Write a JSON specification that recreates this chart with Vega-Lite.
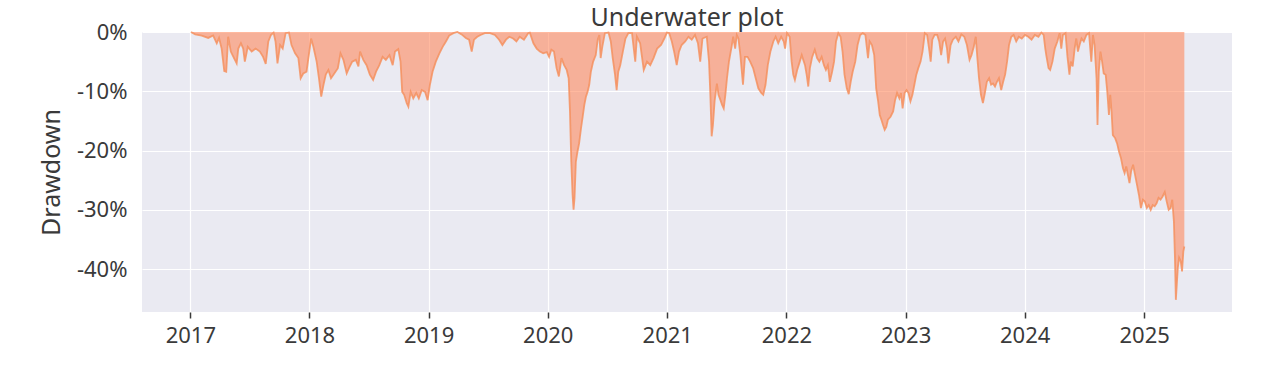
{
  "$schema": "https://vega.github.io/schema/vega-lite/v6.json",
  "width": 1090,
  "height": 280,
  "autosize": {"type": "none"},
  "padding": {"left": 142, "top": 32, "right": 42, "bottom": 60},
  "background": "white",
  "title": {"text": "Underwater plot", "fontSize": 25, "fontWeight": "normal", "font": "Noto Sans", "color": "#3a3a3a", "anchor": "middle", "offset": 5, "dy": 15},
  "data": {"values": [
    {"date": "2017-01-03", "drawdown": 0},
    {"date": "2017-01-16", "drawdown": -0.004},
    {"date": "2017-02-05", "drawdown": -0.006},
    {"date": "2017-02-25", "drawdown": -0.010},
    {"date": "2017-03-12", "drawdown": -0.006},
    {"date": "2017-03-23", "drawdown": -0.019},
    {"date": "2017-03-30", "drawdown": -0.010},
    {"date": "2017-04-07", "drawdown": -0.028},
    {"date": "2017-04-15", "drawdown": -0.066},
    {"date": "2017-04-21", "drawdown": -0.067},
    {"date": "2017-04-27", "drawdown": -0.008},
    {"date": "2017-05-05", "drawdown": -0.033},
    {"date": "2017-05-13", "drawdown": -0.042},
    {"date": "2017-05-23", "drawdown": -0.053},
    {"date": "2017-05-28", "drawdown": -0.028},
    {"date": "2017-06-05", "drawdown": -0.019},
    {"date": "2017-06-12", "drawdown": -0.028},
    {"date": "2017-06-17", "drawdown": -0.050},
    {"date": "2017-06-26", "drawdown": -0.025},
    {"date": "2017-07-08", "drawdown": -0.033},
    {"date": "2017-07-20", "drawdown": -0.028},
    {"date": "2017-08-02", "drawdown": -0.033},
    {"date": "2017-08-12", "drawdown": -0.042},
    {"date": "2017-08-20", "drawdown": -0.054},
    {"date": "2017-08-28", "drawdown": -0.016},
    {"date": "2017-09-05", "drawdown": -0.005},
    {"date": "2017-09-13", "drawdown": -0.001},
    {"date": "2017-09-19", "drawdown": -0.016},
    {"date": "2017-09-25", "drawdown": -0.053},
    {"date": "2017-10-03", "drawdown": -0.022},
    {"date": "2017-10-11", "drawdown": -0.028},
    {"date": "2017-10-20", "drawdown": -0.002},
    {"date": "2017-10-30", "drawdown": -0.001},
    {"date": "2017-11-07", "drawdown": -0.022},
    {"date": "2017-11-18", "drawdown": -0.036},
    {"date": "2017-11-28", "drawdown": -0.044},
    {"date": "2017-12-05", "drawdown": -0.078},
    {"date": "2017-12-13", "drawdown": -0.070},
    {"date": "2017-12-23", "drawdown": -0.067},
    {"date": "2018-01-06", "drawdown": -0.011},
    {"date": "2018-01-13", "drawdown": -0.025},
    {"date": "2018-01-23", "drawdown": -0.050},
    {"date": "2018-01-30", "drawdown": -0.078},
    {"date": "2018-02-06", "drawdown": -0.109},
    {"date": "2018-02-13", "drawdown": -0.089},
    {"date": "2018-02-20", "drawdown": -0.072},
    {"date": "2018-02-28", "drawdown": -0.064},
    {"date": "2018-03-08", "drawdown": -0.078},
    {"date": "2018-03-18", "drawdown": -0.070},
    {"date": "2018-03-29", "drawdown": -0.061},
    {"date": "2018-04-06", "drawdown": -0.036},
    {"date": "2018-04-15", "drawdown": -0.047},
    {"date": "2018-04-25", "drawdown": -0.070},
    {"date": "2018-05-02", "drawdown": -0.061},
    {"date": "2018-05-12", "drawdown": -0.050},
    {"date": "2018-05-23", "drawdown": -0.047},
    {"date": "2018-05-31", "drawdown": -0.058},
    {"date": "2018-06-05", "drawdown": -0.033},
    {"date": "2018-06-15", "drawdown": -0.047},
    {"date": "2018-06-25", "drawdown": -0.056},
    {"date": "2018-07-05", "drawdown": -0.072},
    {"date": "2018-07-15", "drawdown": -0.081},
    {"date": "2018-07-24", "drawdown": -0.067},
    {"date": "2018-08-03", "drawdown": -0.056},
    {"date": "2018-08-13", "drawdown": -0.042},
    {"date": "2018-08-23", "drawdown": -0.047},
    {"date": "2018-09-03", "drawdown": -0.039},
    {"date": "2018-09-13", "drawdown": -0.056},
    {"date": "2018-09-20", "drawdown": -0.033},
    {"date": "2018-09-30", "drawdown": -0.029},
    {"date": "2018-10-07", "drawdown": -0.050},
    {"date": "2018-10-12", "drawdown": -0.101},
    {"date": "2018-10-18", "drawdown": -0.106},
    {"date": "2018-10-26", "drawdown": -0.120},
    {"date": "2018-10-31", "drawdown": -0.126},
    {"date": "2018-11-07", "drawdown": -0.101},
    {"date": "2018-11-15", "drawdown": -0.112},
    {"date": "2018-11-24", "drawdown": -0.103},
    {"date": "2018-12-02", "drawdown": -0.112},
    {"date": "2018-12-11", "drawdown": -0.098},
    {"date": "2018-12-21", "drawdown": -0.101},
    {"date": "2018-12-29", "drawdown": -0.115},
    {"date": "2019-01-05", "drawdown": -0.089},
    {"date": "2019-01-13", "drawdown": -0.067},
    {"date": "2019-01-23", "drawdown": -0.050},
    {"date": "2019-02-03", "drawdown": -0.036},
    {"date": "2019-02-13", "drawdown": -0.025},
    {"date": "2019-02-23", "drawdown": -0.016},
    {"date": "2019-03-05", "drawdown": -0.006},
    {"date": "2019-03-18", "drawdown": -0.002},
    {"date": "2019-03-30", "drawdown": 0},
    {"date": "2019-04-12", "drawdown": -0.004},
    {"date": "2019-04-25", "drawdown": -0.010},
    {"date": "2019-05-05", "drawdown": -0.013},
    {"date": "2019-05-13", "drawdown": -0.033},
    {"date": "2019-05-20", "drawdown": -0.013},
    {"date": "2019-05-30", "drawdown": -0.008},
    {"date": "2019-06-09", "drawdown": -0.005},
    {"date": "2019-06-22", "drawdown": -0.002},
    {"date": "2019-07-08", "drawdown": -0.002},
    {"date": "2019-07-23", "drawdown": -0.005},
    {"date": "2019-08-05", "drawdown": -0.013},
    {"date": "2019-08-15", "drawdown": -0.022},
    {"date": "2019-08-26", "drawdown": -0.013},
    {"date": "2019-09-05", "drawdown": -0.008},
    {"date": "2019-09-17", "drawdown": -0.011},
    {"date": "2019-09-27", "drawdown": -0.016},
    {"date": "2019-10-07", "drawdown": -0.008},
    {"date": "2019-10-20", "drawdown": -0.013},
    {"date": "2019-11-02", "drawdown": -0.002},
    {"date": "2019-11-07", "drawdown": -0.001},
    {"date": "2019-11-18", "drawdown": -0.019},
    {"date": "2019-11-28", "drawdown": -0.028},
    {"date": "2019-12-08", "drawdown": -0.033},
    {"date": "2019-12-18", "drawdown": -0.036},
    {"date": "2019-12-29", "drawdown": -0.034},
    {"date": "2020-01-05", "drawdown": -0.042},
    {"date": "2020-01-12", "drawdown": -0.030},
    {"date": "2020-01-20", "drawdown": -0.033},
    {"date": "2020-01-28", "drawdown": -0.061},
    {"date": "2020-02-04", "drawdown": -0.075},
    {"date": "2020-02-12", "drawdown": -0.044},
    {"date": "2020-02-20", "drawdown": -0.056},
    {"date": "2020-02-28", "drawdown": -0.064},
    {"date": "2020-03-05", "drawdown": -0.078},
    {"date": "2020-03-09", "drawdown": -0.134},
    {"date": "2020-03-13", "drawdown": -0.219},
    {"date": "2020-03-17", "drawdown": -0.275},
    {"date": "2020-03-20", "drawdown": -0.300},
    {"date": "2020-03-23", "drawdown": -0.280},
    {"date": "2020-03-27", "drawdown": -0.219},
    {"date": "2020-04-01", "drawdown": -0.202},
    {"date": "2020-04-06", "drawdown": -0.188},
    {"date": "2020-04-12", "drawdown": -0.162},
    {"date": "2020-04-17", "drawdown": -0.143},
    {"date": "2020-04-22", "drawdown": -0.123},
    {"date": "2020-04-27", "drawdown": -0.109},
    {"date": "2020-05-02", "drawdown": -0.101},
    {"date": "2020-05-07", "drawdown": -0.089},
    {"date": "2020-05-12", "drawdown": -0.067},
    {"date": "2020-05-19", "drawdown": -0.050},
    {"date": "2020-05-27", "drawdown": -0.039},
    {"date": "2020-06-02", "drawdown": -0.013},
    {"date": "2020-06-07", "drawdown": -0.005},
    {"date": "2020-06-11", "drawdown": -0.044},
    {"date": "2020-06-16", "drawdown": -0.025},
    {"date": "2020-06-24", "drawdown": -0.002},
    {"date": "2020-07-05", "drawdown": -0.001},
    {"date": "2020-07-12", "drawdown": -0.016},
    {"date": "2020-07-18", "drawdown": -0.044},
    {"date": "2020-07-25", "drawdown": -0.072},
    {"date": "2020-07-30", "drawdown": -0.098},
    {"date": "2020-08-04", "drawdown": -0.067},
    {"date": "2020-08-10", "drawdown": -0.056},
    {"date": "2020-08-18", "drawdown": -0.033},
    {"date": "2020-08-26", "drawdown": -0.011},
    {"date": "2020-09-04", "drawdown": -0.002},
    {"date": "2020-09-15", "drawdown": -0.002},
    {"date": "2020-09-25", "drawdown": -0.050},
    {"date": "2020-09-30", "drawdown": -0.008},
    {"date": "2020-10-10", "drawdown": -0.019},
    {"date": "2020-10-21", "drawdown": -0.064},
    {"date": "2020-10-31", "drawdown": -0.050},
    {"date": "2020-11-10", "drawdown": -0.056},
    {"date": "2020-11-20", "drawdown": -0.044},
    {"date": "2020-12-01", "drawdown": -0.028},
    {"date": "2020-12-13", "drawdown": -0.022},
    {"date": "2020-12-23", "drawdown": -0.011},
    {"date": "2020-12-31", "drawdown": -0.001},
    {"date": "2021-01-07", "drawdown": -0.002},
    {"date": "2021-01-15", "drawdown": -0.016},
    {"date": "2021-01-22", "drawdown": -0.033},
    {"date": "2021-01-30", "drawdown": -0.056},
    {"date": "2021-02-06", "drawdown": -0.033},
    {"date": "2021-02-14", "drawdown": -0.022},
    {"date": "2021-02-25", "drawdown": -0.016},
    {"date": "2021-03-07", "drawdown": -0.008},
    {"date": "2021-03-17", "drawdown": -0.013},
    {"date": "2021-03-27", "drawdown": -0.005},
    {"date": "2021-04-05", "drawdown": -0.019},
    {"date": "2021-04-12", "drawdown": -0.050},
    {"date": "2021-04-19", "drawdown": -0.011},
    {"date": "2021-05-02", "drawdown": -0.008},
    {"date": "2021-05-09", "drawdown": -0.050},
    {"date": "2021-05-13", "drawdown": -0.106},
    {"date": "2021-05-17", "drawdown": -0.176},
    {"date": "2021-05-21", "drawdown": -0.157},
    {"date": "2021-05-26", "drawdown": -0.117},
    {"date": "2021-06-02", "drawdown": -0.087},
    {"date": "2021-06-07", "drawdown": -0.106},
    {"date": "2021-06-13", "drawdown": -0.115},
    {"date": "2021-06-18", "drawdown": -0.123},
    {"date": "2021-06-23", "drawdown": -0.129},
    {"date": "2021-06-28", "drawdown": -0.106},
    {"date": "2021-07-03", "drawdown": -0.078},
    {"date": "2021-07-09", "drawdown": -0.050},
    {"date": "2021-07-18", "drawdown": -0.022},
    {"date": "2021-07-22", "drawdown": -0.008},
    {"date": "2021-07-28", "drawdown": -0.028},
    {"date": "2021-08-02", "drawdown": -0.005},
    {"date": "2021-08-07", "drawdown": -0.011},
    {"date": "2021-08-13", "drawdown": -0.039},
    {"date": "2021-08-21", "drawdown": -0.089},
    {"date": "2021-08-27", "drawdown": -0.042},
    {"date": "2021-09-04", "drawdown": -0.042},
    {"date": "2021-09-12", "drawdown": -0.050},
    {"date": "2021-09-21", "drawdown": -0.061},
    {"date": "2021-09-29", "drawdown": -0.078},
    {"date": "2021-10-07", "drawdown": -0.095},
    {"date": "2021-10-16", "drawdown": -0.103},
    {"date": "2021-10-22", "drawdown": -0.106},
    {"date": "2021-10-29", "drawdown": -0.089},
    {"date": "2021-11-05", "drawdown": -0.056},
    {"date": "2021-11-13", "drawdown": -0.033},
    {"date": "2021-11-22", "drawdown": -0.016},
    {"date": "2021-11-29", "drawdown": -0.008},
    {"date": "2021-12-07", "drawdown": -0.019},
    {"date": "2021-12-16", "drawdown": -0.008},
    {"date": "2021-12-24", "drawdown": -0.016},
    {"date": "2021-12-28", "drawdown": -0.028},
    {"date": "2022-01-03", "drawdown": -0.002},
    {"date": "2022-01-11", "drawdown": -0.008},
    {"date": "2022-01-17", "drawdown": -0.050},
    {"date": "2022-01-22", "drawdown": -0.072},
    {"date": "2022-01-27", "drawdown": -0.081},
    {"date": "2022-02-03", "drawdown": -0.064},
    {"date": "2022-02-11", "drawdown": -0.050},
    {"date": "2022-02-17", "drawdown": -0.039},
    {"date": "2022-02-27", "drawdown": -0.056},
    {"date": "2022-03-04", "drawdown": -0.072},
    {"date": "2022-03-09", "drawdown": -0.092},
    {"date": "2022-03-14", "drawdown": -0.061},
    {"date": "2022-03-21", "drawdown": -0.042},
    {"date": "2022-03-29", "drawdown": -0.030},
    {"date": "2022-04-05", "drawdown": -0.044},
    {"date": "2022-04-12", "drawdown": -0.050},
    {"date": "2022-04-19", "drawdown": -0.042},
    {"date": "2022-04-26", "drawdown": -0.056},
    {"date": "2022-05-02", "drawdown": -0.064},
    {"date": "2022-05-08", "drawdown": -0.056},
    {"date": "2022-05-14", "drawdown": -0.084},
    {"date": "2022-05-21", "drawdown": -0.067},
    {"date": "2022-05-27", "drawdown": -0.050},
    {"date": "2022-06-02", "drawdown": -0.016},
    {"date": "2022-06-09", "drawdown": -0.002},
    {"date": "2022-06-16", "drawdown": -0.008},
    {"date": "2022-06-22", "drawdown": -0.033},
    {"date": "2022-06-28", "drawdown": -0.072},
    {"date": "2022-07-05", "drawdown": -0.095},
    {"date": "2022-07-11", "drawdown": -0.105},
    {"date": "2022-07-17", "drawdown": -0.084},
    {"date": "2022-07-23", "drawdown": -0.067},
    {"date": "2022-07-31", "drawdown": -0.050},
    {"date": "2022-08-07", "drawdown": -0.022},
    {"date": "2022-08-15", "drawdown": -0.005},
    {"date": "2022-08-23", "drawdown": -0.002},
    {"date": "2022-08-31", "drawdown": -0.005},
    {"date": "2022-09-08", "drawdown": -0.044},
    {"date": "2022-09-13", "drawdown": -0.016},
    {"date": "2022-09-20", "drawdown": -0.022},
    {"date": "2022-09-27", "drawdown": -0.039},
    {"date": "2022-10-03", "drawdown": -0.095},
    {"date": "2022-10-09", "drawdown": -0.117},
    {"date": "2022-10-14", "drawdown": -0.140},
    {"date": "2022-10-19", "drawdown": -0.148},
    {"date": "2022-10-24", "drawdown": -0.157},
    {"date": "2022-10-29", "drawdown": -0.165},
    {"date": "2022-11-03", "drawdown": -0.160},
    {"date": "2022-11-08", "drawdown": -0.148},
    {"date": "2022-11-16", "drawdown": -0.143},
    {"date": "2022-11-24", "drawdown": -0.134},
    {"date": "2022-11-30", "drawdown": -0.115},
    {"date": "2022-12-06", "drawdown": -0.103},
    {"date": "2022-12-13", "drawdown": -0.112},
    {"date": "2022-12-18", "drawdown": -0.103},
    {"date": "2022-12-23", "drawdown": -0.129},
    {"date": "2022-12-29", "drawdown": -0.103},
    {"date": "2023-01-04", "drawdown": -0.098},
    {"date": "2023-01-10", "drawdown": -0.103},
    {"date": "2023-01-16", "drawdown": -0.117},
    {"date": "2023-01-22", "drawdown": -0.106},
    {"date": "2023-01-28", "drawdown": -0.089},
    {"date": "2023-02-03", "drawdown": -0.072},
    {"date": "2023-02-09", "drawdown": -0.061},
    {"date": "2023-02-16", "drawdown": -0.050},
    {"date": "2023-02-22", "drawdown": -0.033},
    {"date": "2023-03-01", "drawdown": -0.002},
    {"date": "2023-03-08", "drawdown": -0.005},
    {"date": "2023-03-14", "drawdown": -0.028},
    {"date": "2023-03-19", "drawdown": -0.050},
    {"date": "2023-03-24", "drawdown": -0.013},
    {"date": "2023-03-31", "drawdown": -0.005},
    {"date": "2023-04-08", "drawdown": -0.005},
    {"date": "2023-04-14", "drawdown": -0.016},
    {"date": "2023-04-20", "drawdown": -0.039},
    {"date": "2023-04-26", "drawdown": -0.016},
    {"date": "2023-05-02", "drawdown": -0.011},
    {"date": "2023-05-08", "drawdown": -0.028},
    {"date": "2023-05-12", "drawdown": -0.053},
    {"date": "2023-05-19", "drawdown": -0.022},
    {"date": "2023-05-26", "drawdown": -0.013},
    {"date": "2023-06-04", "drawdown": -0.008},
    {"date": "2023-06-12", "drawdown": -0.016},
    {"date": "2023-06-21", "drawdown": -0.004},
    {"date": "2023-06-30", "drawdown": -0.008},
    {"date": "2023-07-08", "drawdown": -0.022},
    {"date": "2023-07-16", "drawdown": -0.047},
    {"date": "2023-07-22", "drawdown": -0.039},
    {"date": "2023-07-29", "drawdown": -0.025},
    {"date": "2023-08-04", "drawdown": -0.008},
    {"date": "2023-08-09", "drawdown": -0.044},
    {"date": "2023-08-14", "drawdown": -0.078},
    {"date": "2023-08-20", "drawdown": -0.106},
    {"date": "2023-08-26", "drawdown": -0.120},
    {"date": "2023-09-01", "drawdown": -0.103},
    {"date": "2023-09-07", "drawdown": -0.084},
    {"date": "2023-09-14", "drawdown": -0.078},
    {"date": "2023-09-20", "drawdown": -0.089},
    {"date": "2023-09-26", "drawdown": -0.087},
    {"date": "2023-10-02", "drawdown": -0.092},
    {"date": "2023-10-08", "drawdown": -0.084},
    {"date": "2023-10-14", "drawdown": -0.078},
    {"date": "2023-10-21", "drawdown": -0.098},
    {"date": "2023-10-27", "drawdown": -0.084},
    {"date": "2023-11-02", "drawdown": -0.072},
    {"date": "2023-11-08", "drawdown": -0.050},
    {"date": "2023-11-14", "drawdown": -0.022},
    {"date": "2023-11-21", "drawdown": -0.008},
    {"date": "2023-11-28", "drawdown": -0.005},
    {"date": "2023-12-06", "drawdown": -0.016},
    {"date": "2023-12-14", "drawdown": -0.008},
    {"date": "2023-12-23", "drawdown": -0.011},
    {"date": "2024-01-02", "drawdown": -0.005},
    {"date": "2024-01-12", "drawdown": -0.008},
    {"date": "2024-01-22", "drawdown": -0.013},
    {"date": "2024-02-01", "drawdown": -0.005},
    {"date": "2024-02-12", "drawdown": -0.008},
    {"date": "2024-02-21", "drawdown": -0.001},
    {"date": "2024-02-28", "drawdown": -0.005},
    {"date": "2024-03-04", "drawdown": -0.028},
    {"date": "2024-03-07", "drawdown": -0.039},
    {"date": "2024-03-14", "drawdown": -0.061},
    {"date": "2024-03-19", "drawdown": -0.064},
    {"date": "2024-03-26", "drawdown": -0.050},
    {"date": "2024-04-02", "drawdown": -0.028},
    {"date": "2024-04-10", "drawdown": -0.016},
    {"date": "2024-04-17", "drawdown": -0.002},
    {"date": "2024-04-22", "drawdown": -0.028},
    {"date": "2024-04-27", "drawdown": -0.005},
    {"date": "2024-05-05", "drawdown": -0.002},
    {"date": "2024-05-11", "drawdown": -0.042},
    {"date": "2024-05-17", "drawdown": -0.072},
    {"date": "2024-05-21", "drawdown": -0.050},
    {"date": "2024-05-27", "drawdown": -0.058},
    {"date": "2024-06-02", "drawdown": -0.028},
    {"date": "2024-06-07", "drawdown": -0.011},
    {"date": "2024-06-12", "drawdown": -0.033},
    {"date": "2024-06-17", "drawdown": -0.022},
    {"date": "2024-06-23", "drawdown": -0.011},
    {"date": "2024-06-30", "drawdown": -0.016},
    {"date": "2024-07-08", "drawdown": -0.005},
    {"date": "2024-07-16", "drawdown": -0.002},
    {"date": "2024-07-23", "drawdown": -0.050},
    {"date": "2024-07-28", "drawdown": -0.005},
    {"date": "2024-08-02", "drawdown": -0.022},
    {"date": "2024-08-08", "drawdown": -0.078},
    {"date": "2024-08-11", "drawdown": -0.157},
    {"date": "2024-08-15", "drawdown": -0.067},
    {"date": "2024-08-20", "drawdown": -0.033},
    {"date": "2024-08-25", "drawdown": -0.050},
    {"date": "2024-08-30", "drawdown": -0.070},
    {"date": "2024-09-05", "drawdown": -0.072},
    {"date": "2024-09-10", "drawdown": -0.101},
    {"date": "2024-09-15", "drawdown": -0.140},
    {"date": "2024-09-19", "drawdown": -0.106},
    {"date": "2024-09-23", "drawdown": -0.134},
    {"date": "2024-09-27", "drawdown": -0.174},
    {"date": "2024-10-04", "drawdown": -0.179},
    {"date": "2024-10-10", "drawdown": -0.188},
    {"date": "2024-10-16", "drawdown": -0.202},
    {"date": "2024-10-22", "drawdown": -0.213},
    {"date": "2024-10-28", "drawdown": -0.230},
    {"date": "2024-11-02", "drawdown": -0.238},
    {"date": "2024-11-07", "drawdown": -0.227},
    {"date": "2024-11-12", "drawdown": -0.241},
    {"date": "2024-11-17", "drawdown": -0.255},
    {"date": "2024-11-22", "drawdown": -0.235},
    {"date": "2024-11-28", "drawdown": -0.224},
    {"date": "2024-12-04", "drawdown": -0.241},
    {"date": "2024-12-10", "drawdown": -0.258},
    {"date": "2024-12-16", "drawdown": -0.275},
    {"date": "2024-12-22", "drawdown": -0.297},
    {"date": "2024-12-28", "drawdown": -0.283},
    {"date": "2025-01-03", "drawdown": -0.286},
    {"date": "2025-01-09", "drawdown": -0.297},
    {"date": "2025-01-15", "drawdown": -0.292},
    {"date": "2025-01-21", "drawdown": -0.300},
    {"date": "2025-01-27", "drawdown": -0.292},
    {"date": "2025-02-02", "drawdown": -0.294},
    {"date": "2025-02-08", "drawdown": -0.289},
    {"date": "2025-02-14", "drawdown": -0.280},
    {"date": "2025-02-20", "drawdown": -0.283},
    {"date": "2025-02-26", "drawdown": -0.278},
    {"date": "2025-03-05", "drawdown": -0.270},
    {"date": "2025-03-11", "drawdown": -0.286},
    {"date": "2025-03-17", "drawdown": -0.300},
    {"date": "2025-03-23", "drawdown": -0.297},
    {"date": "2025-03-28", "drawdown": -0.283},
    {"date": "2025-04-02", "drawdown": -0.320},
    {"date": "2025-04-05", "drawdown": -0.376},
    {"date": "2025-04-08", "drawdown": -0.452},
    {"date": "2025-04-14", "drawdown": -0.398},
    {"date": "2025-04-18", "drawdown": -0.381},
    {"date": "2025-04-23", "drawdown": -0.387},
    {"date": "2025-04-27", "drawdown": -0.404},
    {"date": "2025-05-01", "drawdown": -0.370},
    {"date": "2025-05-04", "drawdown": -0.362}
  ]},
  "encoding": {
    "x": {
      "field": "date", "type": "temporal",
      "scale": {"domain": [{"year": 2016, "month": 8, "date": 6}, {"year": 2025, "month": 9, "date": 27}]},
      "axis": {"title": null, "format": "%Y", "tickCount": {"interval": "year", "step": 1}, "ticks": true, "tickSize": 6, "tickColor": "#3a3a3a", "tickWidth": 1.5, "labelPadding": 7, "labelFlush": false}
    },
    "y": {
      "field": "drawdown", "type": "quantitative",
      "scale": {"domain": [-0.4725, 0], "nice": false},
      "axis": {"title": "Drawdown", "format": ".0%", "labelExpr": "replace(datum.label, '\u2212', '-')", "values": [0, -0.1, -0.2, -0.3, -0.4], "ticks": false, "labelPadding": 15, "titlePadding": 12}
    }
  },
  "layer": [
    {"mark": {"type": "area", "color": "coral", "opacity": 0.55}},
    {"mark": {"type": "line", "color": "#f4915f", "opacity": 0.85, "strokeWidth": 1.8}}
  ],
  "config": {
    "view": {"fill": "#EAEAF2", "stroke": null},
    "axis": {
      "domain": false,
      "grid": true,
      "gridColor": "#ffffff",
      "gridWidth": 1.2,
      "labelFont": "Noto Sans",
      "labelFontSize": 22,
      "labelColor": "#3a3a3a",
      "titleFont": "Noto Sans",
      "titleFontSize": 25,
      "titleFontWeight": "normal",
      "titleColor": "#3a3a3a"
    }
  }
}
